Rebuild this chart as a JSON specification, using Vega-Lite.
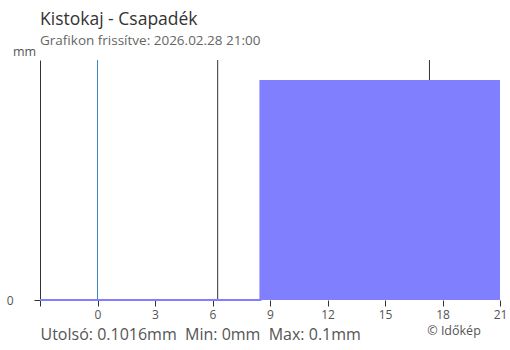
{
  "$schema": "https://vega.github.io/schema/vega-lite/v6.json",
  "width": 460,
  "height": 240,
  "autosize": {"type": "none"},
  "padding": {"left": 40, "top": 60, "right": 10, "bottom": 50},
  "background": "white",
  "config": {"font": "Open Sans", "view": {"stroke": null}},
  "title": {
    "text": "Kistokaj - Csapadék",
    "subtitle": "Grafikon frissítve: 2026.02.28 21:00",
    "anchor": "start",
    "frame": "group",
    "fontSize": 17.5,
    "fontWeight": "normal",
    "color": "#333333",
    "subtitleFontSize": 13.5,
    "subtitleColor": "#666666",
    "subtitlePadding": 5,
    "offset": -2
  },
  "datasets": {
    "events": [
      {"t": 0, "kind": "midnight"},
      {"t": 6.27, "kind": "sunrise"},
      {"t": 17.32, "kind": "sunset"}
    ],
    "precip": [
      {"t": -3, "mm": 0},
      {"t": 8.5, "mm": 0.1016},
      {"t": 21, "mm": 0.1016}
    ],
    "credit": [{"label": "© Időkép"}]
  },
  "layer": [
    {
      "data": {"name": "events"},
      "mark": {"type": "rule", "strokeWidth": 1},
      "encoding": {
        "x": {
          "field": "t",
          "type": "quantitative",
          "scale": {"domain": [-3, 21], "nice": false, "zero": false},
          "axis": {
            "values": [-3, 0, 3, 6, 9, 12, 15, 18, 21],
            "labelExpr": "datum.value < 0 ? '' : datum.label",
            "domain": false,
            "grid": false,
            "ticks": true,
            "tickSize": 6,
            "tickColor": "#333333",
            "labelFontSize": 12,
            "labelColor": "#555555",
            "labelPadding": 3,
            "labelFlush": false,
            "labelOverlap": false,
            "title": "Utolsó: 0.1016mm\u00a0 Min: 0mm\u00a0 Max: 0.1mm",
            "titleFontSize": 16,
            "titleFontWeight": "normal",
            "titleColor": "#555555",
            "titleAnchor": "start",
            "titleAlign": "left",
            "titleBaseline": "alphabetic",
            "titleX": 0,
            "titleY": 39
          }
        },
        "color": {
          "field": "kind",
          "type": "nominal",
          "scale": {"domain": ["midnight", "sunrise", "sunset"], "range": ["#3a87c8", "#333333", "#333333"]},
          "legend": null
        }
      }
    },
    {
      "data": {"name": "precip"},
      "mark": {
        "type": "area",
        "interpolate": "step-after",
        "color": "#8080ff",
        "opacity": 1,
        "line": {"color": "#8080ff", "strokeWidth": 2}
      },
      "encoding": {
        "x": {"field": "t", "type": "quantitative"},
        "y": {
          "field": "mm",
          "type": "quantitative",
          "scale": {"domain": [0, 0.1113], "nice": false},
          "axis": {
            "values": [0],
            "format": "d",
            "domain": true,
            "domainColor": "#333333",
            "grid": false,
            "tickSize": 6,
            "tickColor": "#333333",
            "labelFontSize": 12,
            "labelColor": "#555555",
            "labelPadding": 21,
            "title": "mm",
            "titleAngle": 0,
            "titleX": -16,
            "titleY": -5,
            "titleAlign": "center",
            "titleBaseline": "alphabetic",
            "titleFontSize": 12.5,
            "titleFontWeight": "normal",
            "titleColor": "#555555"
          }
        }
      }
    },
    {
      "data": {"name": "credit"},
      "mark": {"type": "text", "fontSize": 12.5, "color": "#555555", "align": "center", "baseline": "alphabetic"},
      "encoding": {
        "text": {"field": "label", "type": "nominal"},
        "x": {"datum": 18.6},
        "y": {"datum": -0.0162}
      }
    }
  ]
}
